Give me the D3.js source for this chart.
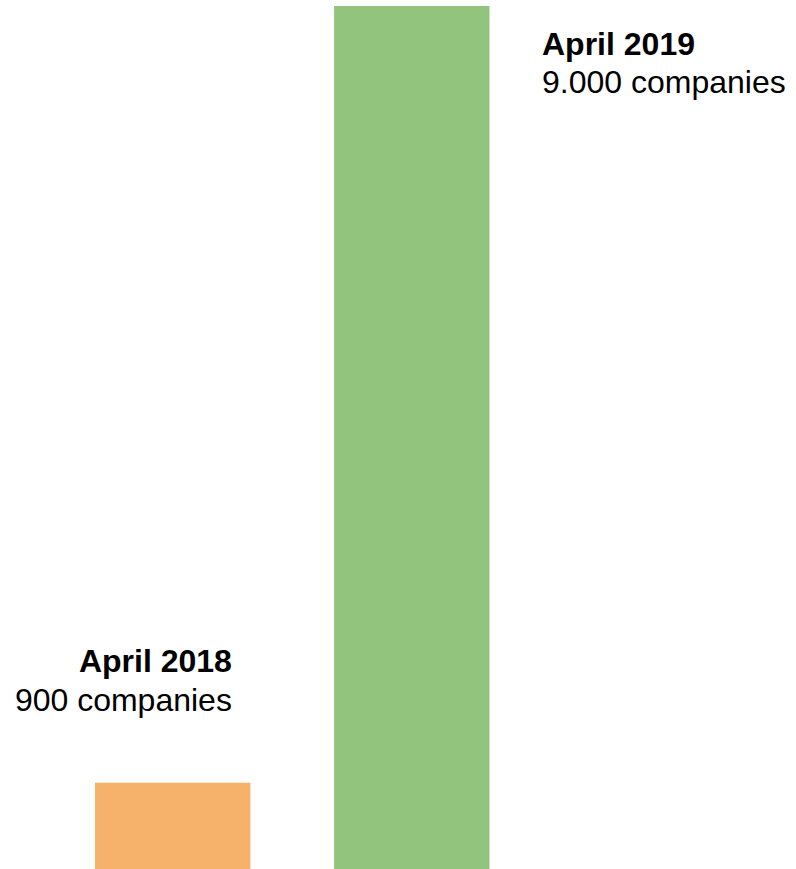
<!DOCTYPE html>
<html>
<head>
<meta charset="utf-8">
<script src="https://cdn.jsdelivr.net/npm/d3@7"></script>
<style>
  html, body { margin: 0; padding: 0; background: #ffffff; }
  svg { display: block; }
  text { font-family: "Liberation Sans", Arial, sans-serif; fill: #000; }
</style>
</head>
<body>
<svg id="chart" width="796" height="869"></svg>
<script>
// Companies registered, April 2018 vs April 2019
const periods = ["April 2018", "April 2019"];
const companies = [900, 9000];
const valueLabels = ["900 companies", "9.000 companies"];
const barColors = ["#F6B16B", "#93C47D"];

const width = 796, height = 869;
const svg = d3.select("#chart");

const x = d3.scaleBand()
  .domain(periods)
  .range([95, 489.5])
  .paddingInner(0.35)
  .paddingOuter(0);

const y = d3.scaleLinear()
  .domain([0, 9000])
  .range([height, 6]);

svg.selectAll("rect.bar")
  .data(periods)
  .join("rect")
  .attr("class", "bar")
  .attr("x", d => x(d))
  .attr("width", x.bandwidth())
  .attr("y", (d, i) => y(companies[i]))
  .attr("height", (d, i) => height - y(companies[i]))
  .attr("fill", (d, i) => barColors[i]);

// Annotation blocks: the small bar is labelled above-left, the tall bar to its right
const fontSize = 32, lineGap = 38.5;
const anchors = [
  { x: x(periods[0]) + x.bandwidth() - 18.5, y: y(companies[0]) - 110.5, anchor: "end" },
  { x: x(periods[1]) + x.bandwidth() + 52.5, y: y(companies[1]) + 48.5, anchor: "start" }
];

const labels = svg.selectAll("g.label")
  .data(periods)
  .join("g")
  .attr("class", "label")
  .attr("transform", (d, i) => `translate(${anchors[i].x},${anchors[i].y})`)
  .attr("text-anchor", (d, i) => anchors[i].anchor)
  .style("font-size", fontSize + "px");

labels.append("text")
  .attr("font-weight", "bold")
  .text(d => d);

labels.append("text")
  .attr("y", lineGap)
  .text((d, i) => valueLabels[i]);
</script>
</body>
</html>
